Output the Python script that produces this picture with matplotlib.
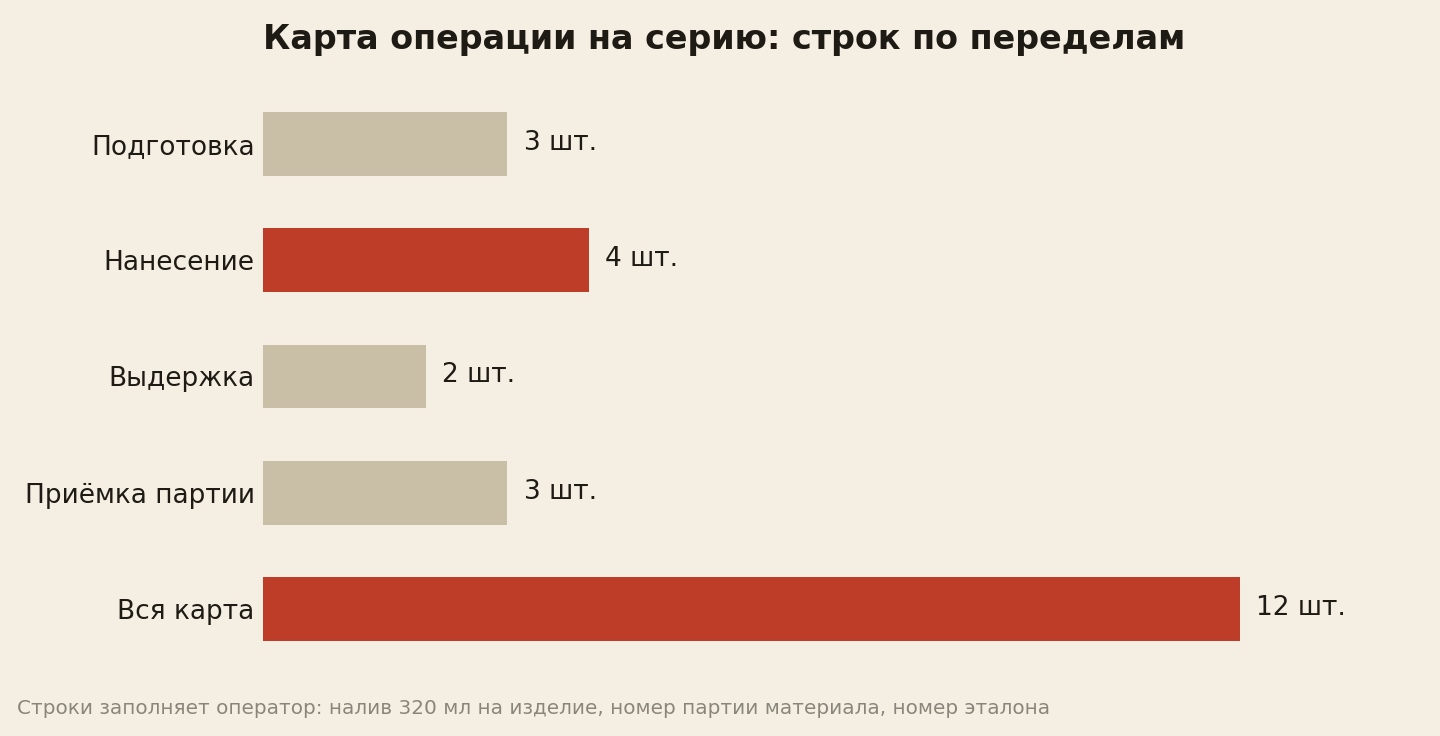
import matplotlib.pyplot as plt

# Data
stages = ["Подготовка", "Нанесение", "Выдержка", "Приёмка партии", "Вся карта"]
rows = [3, 4, 2, 3, 12]
highlight = [False, True, False, False, True]

bg = "#F5EFE3"
c_base = "#C9BFA6"
c_hi = "#BD3D28"
c_text = "#1E1A14"
c_note = "#8A857B"

fig = plt.figure(figsize=(14.4, 7.36), dpi=100, facecolor=bg)
ax = fig.add_axes([263 / 1440, 1 - 667 / 736, (1420 - 263) / 1440, 581 / 736])
ax.set_facecolor(bg)

y = list(range(len(stages)))
colors = [c_hi if h else c_base for h in highlight]
ax.barh(y, rows, height=0.55, color=colors)

for yi, v in zip(y, rows):
    ax.text(v + 0.2, yi - 0.01, f"{v} шт.", va="center", ha="left", fontsize=19, color=c_text)

ax.set_xlim(0, 1157 / (977 / 12))
ax.set_ylim(4.5, -0.5)
ax.set_yticks(y)
ax.set_yticklabels(stages, fontsize=19, color=c_text)
ax.tick_params(axis="y", length=0, pad=6)
ax.set_xticks([])
for s in ax.spines.values():
    s.set_visible(False)

fig.text(724 / 1440, 1 - 40 / 736, "Карта операции на серию: строк по переделам",
         ha="center", va="center", fontsize=24, fontweight="bold", color=c_text)
fig.text(17 / 1440, 1 - 708 / 736,
         "Строки заполняет оператор: налив 320 мл на изделие, номер партии материала, номер эталона",
         ha="left", va="center", fontsize=14.4, color=c_note)

fig.savefig("out.png", dpi=100, facecolor=bg)
